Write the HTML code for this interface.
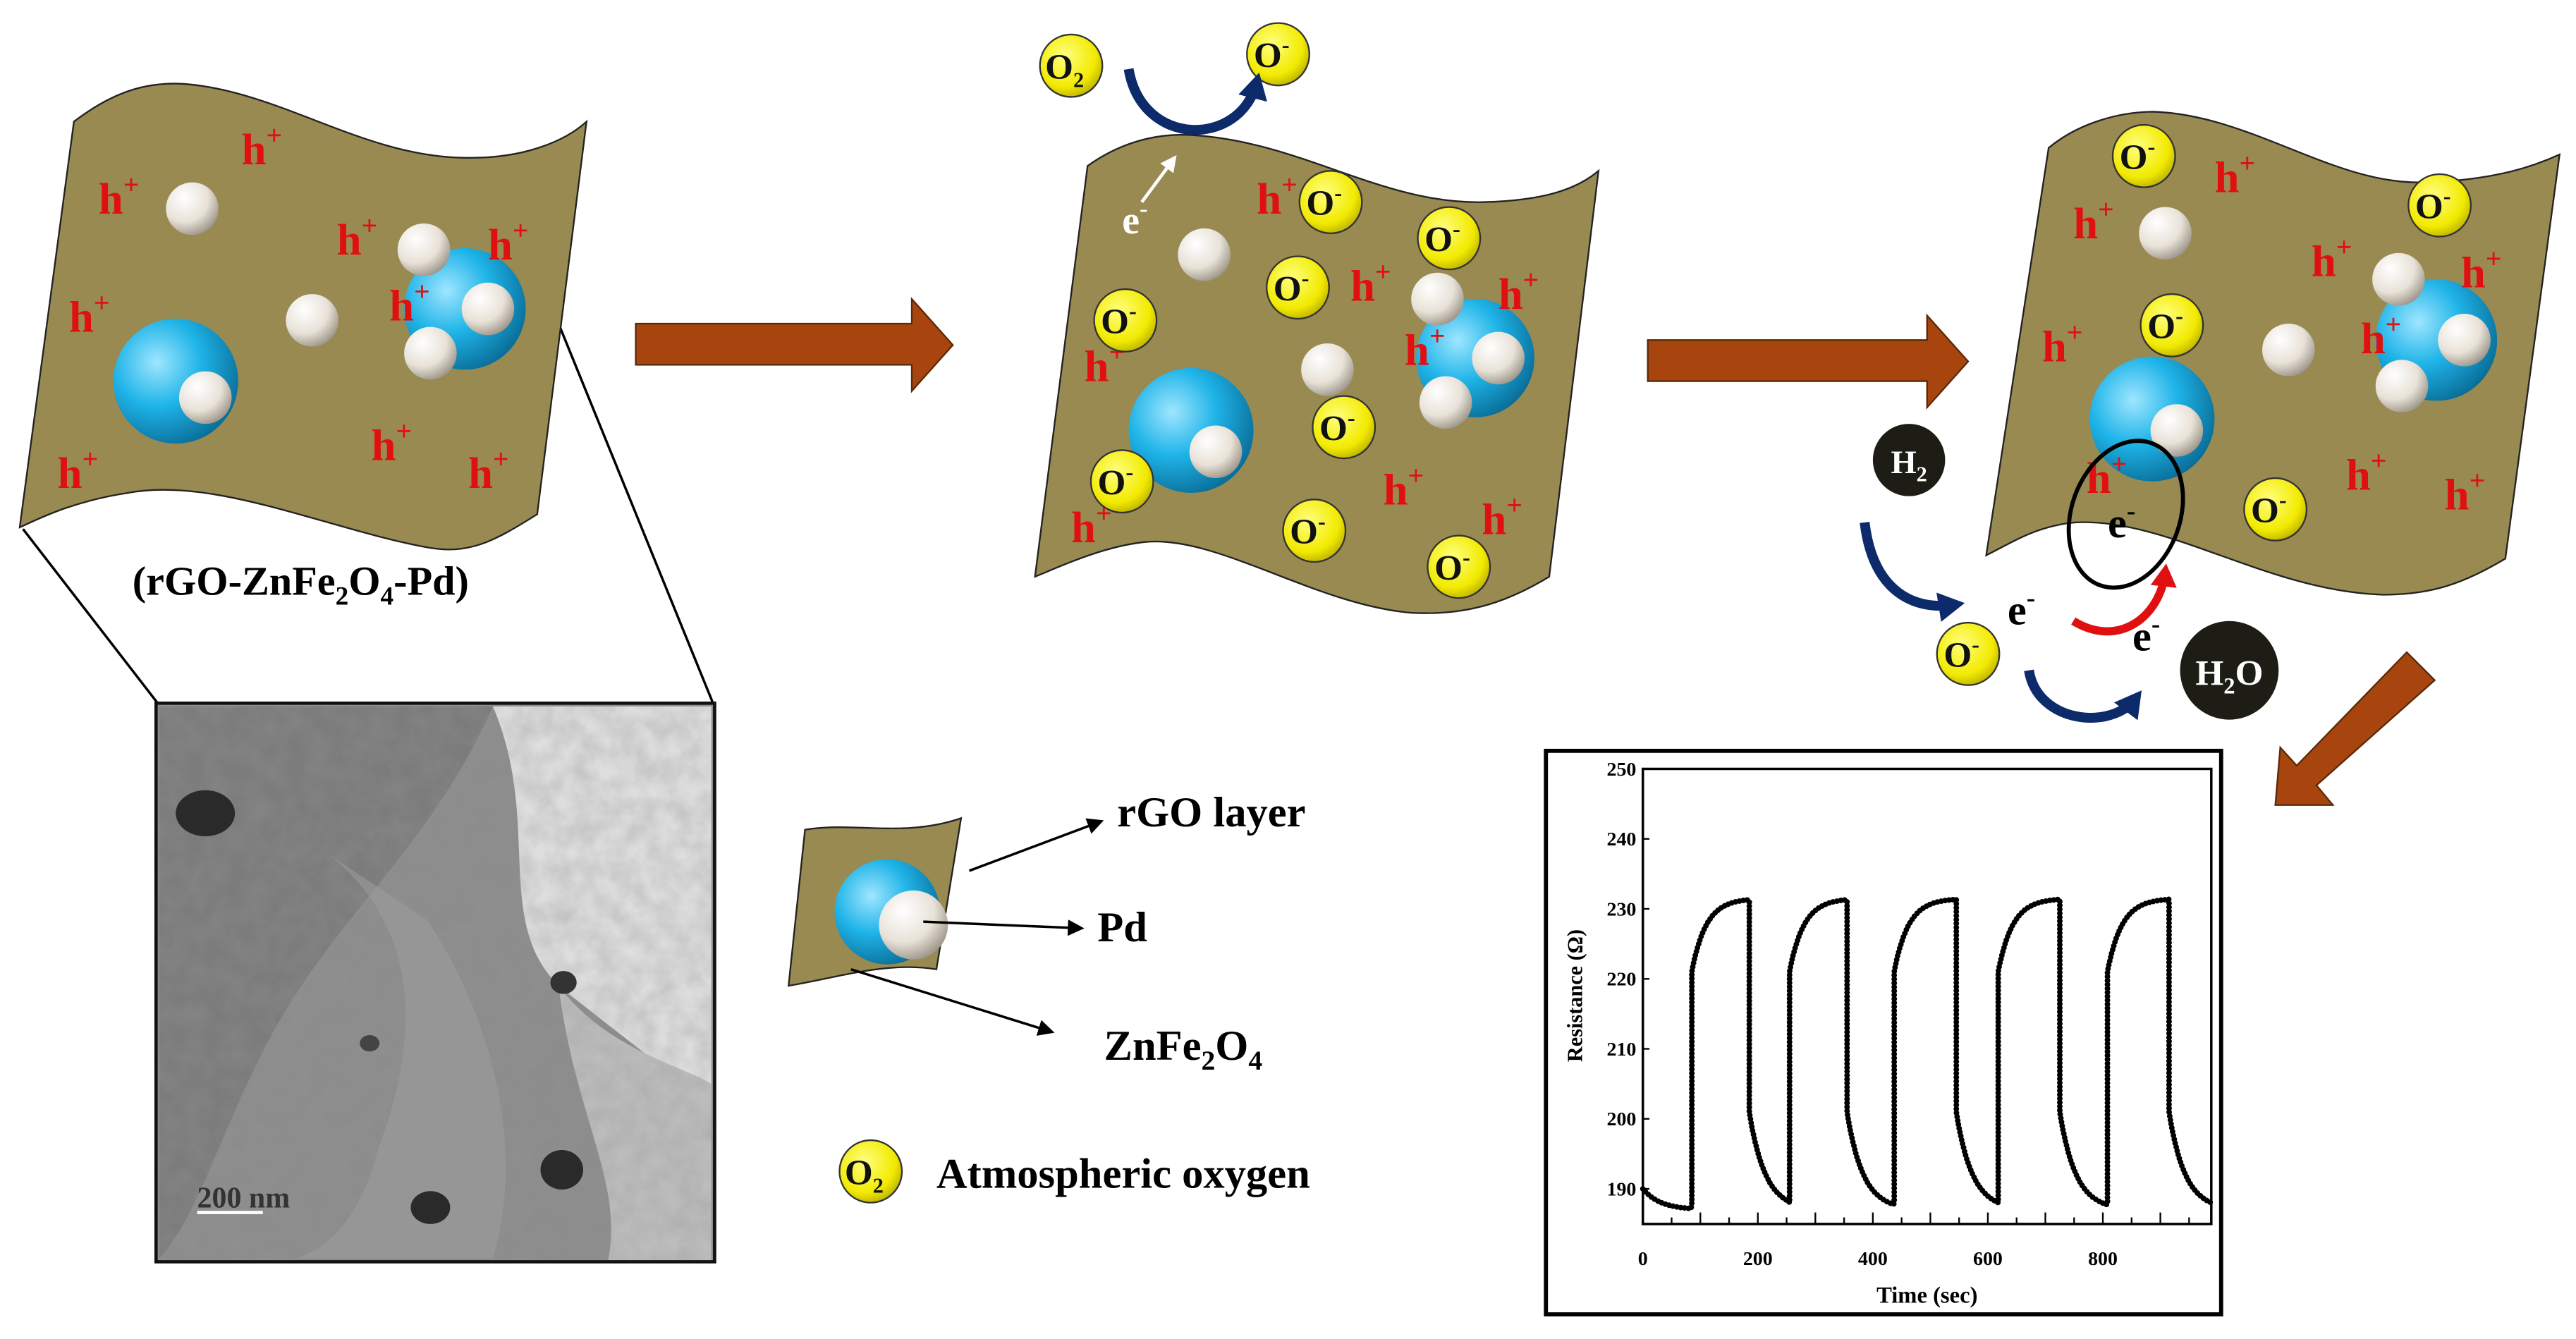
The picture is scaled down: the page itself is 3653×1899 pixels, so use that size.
<!DOCTYPE html>
<html><head><meta charset="utf-8"><style>
html,body{margin:0;padding:0;background:#fff;width:3653px;height:1899px;overflow:hidden}
svg{display:block}
text{font-family:"Liberation Serif",serif;font-weight:bold}
</style></head><body>
<svg id="s" width="3653" height="1899" viewBox="0 0 1568 815" preserveAspectRatio="none" xmlns="http://www.w3.org/2000/svg">
<defs>
<radialGradient id="bl" cx="35%" cy="35%" r="70%"><stop offset="0" stop-color="#9fe6ff"/><stop offset="0.5" stop-color="#1fb4e8"/><stop offset="1" stop-color="#0a6f9a"/></radialGradient>
<radialGradient id="wh" cx="35%" cy="30%" r="75%"><stop offset="0" stop-color="#ffffff"/><stop offset="0.6" stop-color="#e8e2d8"/><stop offset="1" stop-color="#9c9488"/></radialGradient>
<radialGradient id="ye" cx="40%" cy="35%" r="70%"><stop offset="0" stop-color="#ffff80"/><stop offset="0.7" stop-color="#f2ea00"/><stop offset="1" stop-color="#b8ad00"/></radialGradient>
<marker id="ah" markerWidth="10" markerHeight="10" refX="8" refY="5" orient="auto" markerUnits="userSpaceOnUse"><path d="M0,0 L10,5 L0,10 Z" fill="#000"/></marker>
<marker id="bh" markerWidth="18" markerHeight="18" refX="10" refY="9" orient="auto" markerUnits="userSpaceOnUse"><path d="M0,0 L16,9 L0,18 Z" fill="#0d2a6b"/></marker>
<marker id="rh" markerWidth="16" markerHeight="16" refX="9" refY="8" orient="auto" markerUnits="userSpaceOnUse"><path d="M0,0 L14,8 L0,16 Z" fill="#e01010"/></marker>
<marker id="wah" markerWidth="10" markerHeight="10" refX="8" refY="5" orient="auto" markerUnits="userSpaceOnUse"><path d="M0,0 L10,5 L0,10 Z" fill="#fff"/></marker>
<filter id="noise" x="0" y="0" width="100%" height="100%"><feTurbulence type="fractalNoise" baseFrequency="0.08" numOctaves="3" seed="3"/><feColorMatrix type="matrix" values="0 0 0 0 0.3  0 0 0 0 0.3  0 0 0 0 0.3  0 0 0 0.5 -0.1"/><feComposite in2="SourceGraphic" operator="in"/></filter>
</defs>

<!-- connector lines to TEM -->
<line x1="14" y1="322" x2="96" y2="428" stroke="#000" stroke-width="1.5"/>
<line x1="340" y1="197" x2="434" y2="428" stroke="#000" stroke-width="1.5"/>

<!-- sheets -->
<path d="M45,74 C70,55 90,50 111,51 C170,55 220,95 282,96 C320,97 345,85 357,74 L327,313 C300,330 285,338 259,333 C200,322 130,290 78,300 C45,305 25,315 12,321 Z" fill="#988a50" stroke="#222" stroke-width="1"/>
<path d="M662,101 C680,88 700,82 720,82 C790,84 840,125 904,123 C940,122 960,115 973,104 L943,351 C920,365 895,375 859,373 C800,368 740,325 696,330 C670,333 645,345 630,351 Z" fill="#988a50" stroke="#222" stroke-width="1"/>
<path d="M1247,90 C1265,75 1290,68 1311,68 C1370,70 1420,112 1474,111 C1520,110 1545,100 1558,94 L1525,340 C1500,355 1480,362 1451,362 C1380,360 1320,315 1263,318 C1240,320 1225,330 1209,338 Z" fill="#988a50" stroke="#222" stroke-width="1"/>
<path d="M490,505 C520,500 550,510 585,498 L570,590 C540,585 510,595 480,600 Z" fill="#988a50" stroke="#222" stroke-width="1"/>

<g id="g"></g>

<!-- arrows -->
<path d="M387,197 L555,197 L555,182 L580,210 L555,238 L555,222 L387,222 Z" fill="#a8450f" stroke="#5a2a08" stroke-width="1"/>
<path d="M1003,207 L1173,207 L1173,192 L1198,220 L1173,248 L1173,232 L1003,232 Z" fill="#a8450f" stroke="#5a2a08" stroke-width="1"/>
<path d="M1465,397 L1482,414 L1410,478 L1420,490 L1385,490 L1388,455 L1398,466 Z" fill="#a8450f" stroke="#5a2a08" stroke-width="1"/>

<!-- TEM -->
<rect x="95" y="428" width="340" height="340" fill="#8c8c8c"/>
<path d="M300,430 C330,500 300,560 340,600 C390,640 420,660 433,680 L433,430 Z" fill="#dedede"/>
<path d="M340,600 C370,640 420,650 433,660 L433,768 L370,768 C380,720 350,680 340,600Z" fill="#bdbdbd"/>
<path d="M97,430 L300,430 C260,520 200,560 160,640 C130,700 120,740 97,766Z" fill="#6e6e6e" opacity="0.55"/>
<path d="M200,520 C250,560 260,620 230,700 C220,740 200,760 180,766 L300,766 C320,700 300,620 260,560Z" fill="#a0a0a0" opacity="0.5"/>
<rect x="95" y="428" width="340" height="340" filter="url(#noise)" fill="#000"/>
<ellipse cx="125" cy="495" rx="18" ry="14" fill="#2a2a2a"/>
<ellipse cx="262" cy="735" rx="12" ry="10" fill="#2a2a2a"/>
<ellipse cx="342" cy="712" rx="13" ry="12" fill="#2a2a2a"/>
<ellipse cx="343" cy="598" rx="8" ry="7" fill="#333"/>
<ellipse cx="225" cy="635" rx="6" ry="5" fill="#444"/>
<rect x="95" y="428" width="340" height="340" fill="none" stroke="#111" stroke-width="2"/>
<line x1="120" y1="738" x2="160" y2="738" stroke="#fff" stroke-width="2"/>
<text x="120" y="735" font-size="18" fill="#333" font-weight="normal" font-family="Liberation Sans">200 nm</text>

<!-- labels -->
<text x="183" y="362" font-size="25" text-anchor="middle">(rGO-ZnFe<tspan font-size="16" dy="6">2</tspan><tspan dy="-6">O</tspan><tspan font-size="16" dy="6">4</tspan><tspan dy="-6">-Pd)</tspan></text>
<line x1="590" y1="530" x2="670" y2="500" stroke="#000" stroke-width="1.5" marker-end="url(#ah)"/>
<text x="680" y="503" font-size="26">rGO layer</text>
<line x1="562" y1="561" x2="658" y2="565" stroke="#000" stroke-width="1.5" marker-end="url(#ah)"/>
<text x="668" y="573" font-size="26">Pd</text>
<line x1="518" y1="590" x2="640" y2="628" stroke="#000" stroke-width="1.5" marker-end="url(#ah)"/>
<text x="672" y="645" font-size="26">ZnFe<tspan font-size="17" dy="6">2</tspan><tspan dy="-6">O</tspan><tspan font-size="17" dy="6">4</tspan></text>
<text x="570" y="723" font-size="26">Atmospheric oxygen</text>

<!-- gas arrows -->
<path d="M687,42 C695,90 755,90 765,50" fill="none" stroke="#0d2a6b" stroke-width="6" marker-end="url(#bh)"/>
<line x1="695" y1="123" x2="715" y2="96" stroke="#fff" stroke-width="2" marker-end="url(#wah)"/>
<text x="683" y="142" font-size="24" fill="#fff">e<tspan font-size="15" dy="-10">-</tspan></text>
<path d="M1135,318 C1140,360 1165,372 1190,368" fill="none" stroke="#0d2a6b" stroke-width="6" marker-end="url(#bh)"/>
<path d="M1235,408 C1240,440 1285,445 1300,425" fill="none" stroke="#0d2a6b" stroke-width="6" marker-end="url(#bh)"/>
<path d="M1262,378 C1290,395 1315,375 1318,348" fill="none" stroke="#e01010" stroke-width="5" marker-end="url(#rh)"/>
<ellipse cx="1294" cy="313" rx="33" ry="46" transform="rotate(20 1294 313)" fill="none" stroke="#000" stroke-width="2.5"/>
<text x="1283" y="327" font-size="26">e<tspan font-size="16" dy="-11">-</tspan></text>
<text x="1222" y="380" font-size="26">e<tspan font-size="16" dy="-11">-</tspan></text>
<text x="1298" y="396" font-size="26">e<tspan font-size="16" dy="-11">-</tspan></text>
<circle cx="1162" cy="280" r="22" fill="#1d1d16"/>
<text x="1162" y="288" font-size="20" fill="#fff" text-anchor="middle">H<tspan font-size="13" dy="5">2</tspan></text>
<circle cx="1357" cy="408" r="30" fill="#1d1d16"/>
<text x="1357" y="417" font-size="22" fill="#fff" text-anchor="middle">H<tspan font-size="14" dy="5">2</tspan><tspan dy="-5">O</tspan></text>

<!-- graph -->
<rect x="941" y="457" width="411" height="343" fill="#fff" stroke="#000" stroke-width="2.5"/>
<rect x="1000" y="468" width="346" height="277" fill="none" stroke="#000" stroke-width="1.5"/>
<g id="ax" font-size="12"></g>
<text x="1173" y="793" font-size="14" text-anchor="middle">Time (sec)</text>
<text transform="translate(963,606) rotate(-90)" font-size="13" text-anchor="middle">Resistance (Ω)</text>
<path id="data" fill="none" stroke="#000" stroke-width="3.4" stroke-linecap="round" stroke-dasharray="0 2.4"/>
</svg>
<script>
var NS="http://www.w3.org/2000/svg",g=document.getElementById('g');
function el(t,a,p){var e=document.createElementNS(NS,t);for(var k in a)e.setAttribute(k,a[k]);(p||g).appendChild(e);return e;}
function blue(x,y,r){el('circle',{cx:x,cy:y,r:r,fill:'url(#bl)'});}
function wh(x,y){el('circle',{cx:x,cy:y,r:16,fill:'url(#wh)'});}
function hp(x,y){var t=el('text',{x:x,y:y,'font-size':27,fill:'#e01010'});t.innerHTML='h<tspan font-size="17" dy="-12">+</tspan>';}
function ox(x,y,lab,sub){el('circle',{cx:x,cy:y,r:19,fill:'url(#ye)',stroke:'#333','stroke-width':1});var t=el('text',{x:x-4,y:y+8,'font-size':22,fill:'#111','text-anchor':'middle'});t.innerHTML=sub?'O<tspan font-size="13" dy="5">2</tspan>':'O<tspan font-size="14" dy="-9">-</tspan>';}
// sheet1
blue(107,232,38);blue(283,188,37);
[[117,127],[190,195],[258,152],[297,188],[262,215],[125,242]].forEach(function(p){wh(p[0],p[1]);});
[[60,130],[147,100],[205,155],[297,158],[237,195],[42,202],[226,280],[285,297],[35,297]].forEach(function(p){hp(p[0],p[1]);});
// sheet2
blue(725,262,38);blue(898,218,36);
[[733,155],[808,225],[875,182],[912,218],[880,245],[740,275]].forEach(function(p){wh(p[0],p[1]);});
[[765,130],[822,183],[912,188],[855,222],[660,232],[842,307],[902,325],[652,330]].forEach(function(p){hp(p[0],p[1]);});
[[810,123],[882,145],[790,175],[685,195],[818,260],[683,293],[800,323],[888,345]].forEach(function(p){ox(p[0],p[1]);});
ox(652,40,0,1);ox(778,33);
// sheet3
blue(1310,255,38);blue(1483,207,37);
[[1318,142],[1393,213],[1460,170],[1500,207],[1462,235],[1325,262]].forEach(function(p){wh(p[0],p[1]);});
[[1348,117],[1262,145],[1407,168],[1498,175],[1243,220],[1437,215],[1270,300],[1428,298],[1488,310]].forEach(function(p){hp(p[0],p[1]);});
[[1305,95],[1485,125],[1322,198],[1385,310],[1198,398]].forEach(function(p){ox(p[0],p[1]);});
// legend
el('circle',{cx:540,cy:555,r:32,fill:'url(#bl)'});el('circle',{cx:556,cy:563,r:21,fill:'url(#wh)'});
ox(530,713,0,1);
// axes ticks
var ax=document.getElementById('ax');
function X(t){return 1000+t*0.35;}function Y(v){return 468+(250-v)*4.26;}
for(var v=190;v<=250;v+=10){var t=el('text',{x:996,y:Y(v)+4,'text-anchor':'end','font-size':12},ax);t.textContent=v;el('line',{x1:1000,x2:1004,y1:Y(v),y2:Y(v),stroke:'#000'},ax);}
for(var s=0;s<=800;s+=200){var t=el('text',{x:X(s),y:770,'text-anchor':'middle','font-size':12},ax);t.textContent=s;}
for(var s=0;s<=950;s+=50){el('line',{x1:X(s),x2:X(s),y1:745,y2:s%100?741:738,stroke:'#000'},ax);}
// data
var ev=[[85,185],[255,355],[437,545],[618,725],[808,915]];var d='',first=true;
function pt(t,v){d+=(first?'M':'L')+X(t).toFixed(1)+','+Y(v).toFixed(1)+' ';first=false;}
for(var t=0;t<85;t+=2)pt(t,190-3*(1-Math.exp(-t/30)));
ev.forEach(function(e,i){var r=e[0],f=e[1],nx=i<4?ev[i+1][0]:990;
 for(var v=188;v<221;v+=2.5)pt(r,v);
 for(var t=r;t<=f;t+=1.5)pt(t,221+10.5*(1-Math.exp(-(t-r)/25)));
 for(var v=231;v>200;v-=2.5)pt(f,v);
 for(var t=f;t<=nx;t+=1.5)pt(t,187+14*Math.exp(-(t-f)/28));
});
document.getElementById('data').setAttribute('d',d);
</script>
</body></html>
